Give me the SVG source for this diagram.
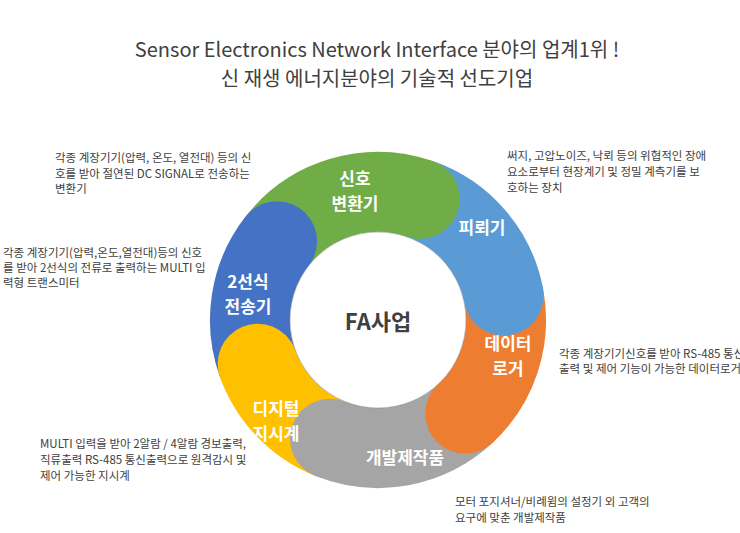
<svg xmlns="http://www.w3.org/2000/svg" width="740" height="533" viewBox="0 0 740 533">
<style>
.t{font-family:"Noto Sans CJK KR","Noto Sans",sans-serif;fill:#404040}
.d{font-family:"Noto Sans CJK KR","Noto Sans",sans-serif;font-size:11.5px;fill:#404040}
.w{font-family:"Noto Sans CJK KR","Noto Sans",sans-serif;font-size:17px;font-weight:bold;fill:#fff;text-anchor:middle}
.s{fill:none;stroke-width:80;stroke-linecap:butt}
</style>
<rect width="740" height="533" fill="#fff"/>
<text class="t" x="377" y="57" font-size="20" text-anchor="middle">Sensor Electronics Network Interface 분야의 업계1위 !</text>
<text class="t" x="377" y="86" font-size="20" text-anchor="middle">신 재생 에너지분야의 기술적 선도기업</text>
<g id="connectors"></g>
<g id="ring">
<path class="s" stroke="#70AD47" d="M277.1,241.2 A128,128 0 0 1 419.7,198.9"/>
<path class="s" stroke="#4472C4" d="M257.7,363.8 A128,128 0 0 1 277.1,241.2"/>
<path class="s" stroke="#FFC000" d="M330,438.7 A128,128 0 0 1 257.7,363.8"/>
<path class="s" stroke="#A5A5A5" d="M465.3,413.6 A128,128 0 0 1 330,438.7"/>
<path class="s" stroke="#ED7D31" d="M503.7,295.6 A128,128 0 0 1 465.3,413.6"/>
<path class="s" stroke="#5B9BD5" d="M419.7,198.9 A128,128 0 0 1 503.7,295.6"/>
<circle cx="419.7" cy="198.9" r="40" fill="#70AD47"/>
<circle cx="277.1" cy="241.2" r="40" fill="#4472C4"/>
<circle cx="257.7" cy="363.8" r="40" fill="#FFC000"/>
<circle cx="330" cy="438.7" r="40" fill="#A5A5A5"/>
<circle cx="465.3" cy="413.6" r="40" fill="#ED7D31"/>
<circle cx="503.7" cy="295.6" r="40" fill="#5B9BD5"/>
<circle cx="378" cy="320" r="88" fill="#fff" stroke="#7f7f7f" stroke-opacity="0.5" stroke-width="1"/>
</g>
<g id="n-center"><text class="t" x="378" y="330" font-size="22" font-weight="bold" text-anchor="middle" fill="#262626">FA사업</text></g>
<g id="n-signal"><text class="w" x="355" y="185">신호</text><text class="w" x="355" y="210">변환기</text></g>
<g id="n-arrester"><text class="w" x="482" y="234">피뢰기</text></g>
<g id="n-logger"><text class="w" x="508" y="350">데이터</text><text class="w" x="508" y="375">로거</text></g>
<g id="n-dev"><text class="w" x="405" y="464">개발제작품</text></g>
<g id="n-digital"><text class="w" x="276" y="415">디지털</text><text class="w" x="276" y="440">지시계</text></g>
<g id="n-2wire"><text class="w" x="248" y="288">2선식</text><text class="w" x="248" y="313">전송기</text></g>
<g id="descs">
<text class="d" x="55" y="162">각종 계장기기(압력, 온도, 열전대) 등의 신</text>
<text class="d" x="55" y="178">호를 받아 절연된 DC SIGNAL로 전송하는</text>
<text class="d" x="55" y="193">변환기</text>
<text class="d" x="3" y="257">각종 계장기기(압력,온도,열전대)등의 신호</text>
<text class="d" x="3" y="272">를 받아 2선식의 전류로 출력하는 MULTI 입</text>
<text class="d" x="3" y="287">력형 트랜스미터</text>
<text class="d" x="507" y="160">써지, 고압노이즈, 낙뢰 등의 위협적인 장애</text>
<text class="d" x="507" y="176">요소로부터 현장계기 및 정밀 계측기를 보</text>
<text class="d" x="507" y="192">호하는 장치</text>
<text class="d" x="559" y="358" font-size="10.5">각종 계장기기신호를 받아 RS-485 통신</text>
<text class="d" x="559" y="373" font-size="10.5">출력 및 제어 기능이 가능한 데이터로거</text>
<text class="d" x="40" y="448">MULTI 입력을 받아 2알람 / 4알람 경보출력,</text>
<text class="d" x="40" y="464">직류출력 RS-485 통신출력으로 원격감시 및</text>
<text class="d" x="40" y="480">제어 가능한 지시계</text>
<text class="d" x="455" y="506">모터 포지셔너/비례윔의 설정기 외 고객의</text>
<text class="d" x="455" y="522">요구에 맞춘 개발제작품</text>
</g>
</svg>
